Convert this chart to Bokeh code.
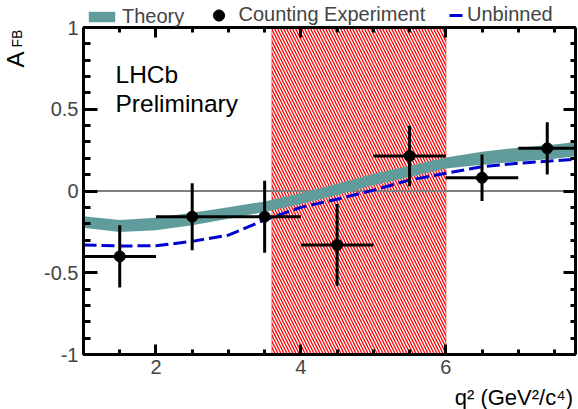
import math
from bokeh.plotting import figure
from bokeh.models import (Range1d, SingleIntervalTicker, LinearAxis, Legend, LegendItem,
                          Label, BoxAnnotation)
from bokeh.embed import file_html
from bokeh.resources import INLINE

# ---- data ----
theory_q  = [1.0, 1.5, 2.0, 2.5, 3.0, 3.5, 4.0, 4.5, 5.0, 5.5, 6.0, 6.5, 7.0, 7.5, 7.79]
theory_lo = [-0.225, -0.250, -0.240, -0.210, -0.170, -0.128, -0.080, -0.025, 0.035, 0.085, 0.138, 0.160, 0.180, 0.198, 0.212]
theory_hi = [-0.155, -0.178, -0.163, -0.133, -0.100, -0.064, -0.012, 0.045, 0.105, 0.155, 0.205, 0.240, 0.265, 0.285, 0.300]

unb_q   = [1.0, 1.5, 2.0, 2.5, 3.0, 3.5, 4.0, 4.5, 5.0, 5.5, 6.0, 6.5, 7.0, 7.5, 7.79]
unb_afb = [-0.330, -0.336, -0.335, -0.308, -0.270, -0.177, -0.100, -0.050, 0.005, 0.067, 0.108, 0.149, 0.170, 0.185, 0.194]

cnt_q   = [1.5, 2.5, 3.5, 4.5, 5.5, 6.5, 7.4]
cnt_lo  = [1.0, 2.0, 3.0, 4.0, 5.0, 6.0, 7.0]
cnt_hi  = [2.0, 3.0, 4.0, 5.0, 6.0, 7.0, 7.79]
cnt_afb = [-0.400, -0.157, -0.157, -0.330, 0.214, 0.081, 0.261]
cnt_err = [0.190, 0.205, 0.220, 0.250, 0.185, 0.142, 0.160]

zero_lo, zero_hi = 3.6, 6.0

y_tick_labels = {-1: "-1", -0.5: "-0.5", 0: "0", 0.5: "0.5", 1: "1"}
x_tick_labels = {2: "2", 4: "4", 6: "6"}

# axis extent of the plot box
XMIN, XMAX = 1.0, 7.79
YMIN, YMAX = -1.0, 1.0

# ---- layout (pixels) ----
W, H = 578, 409
BOX_L, BOX_R, BOX_T, BOX_B = 83, 575, 27, 354
sx = (BOX_R - BOX_L) / (XMAX - XMIN)
sy = (BOX_B - BOX_T) / (YMAX - YMIN)
x_range = Range1d(XMIN - BOX_L / sx, XMAX + (W - BOX_R) / sx)
y_range = Range1d(YMIN - (H - BOX_B) / sy, YMAX + BOX_T / sy)

TEAL = "#609c9c"
FONT = "Liberation Sans"

p = figure(width=W, height=H, x_range=x_range, y_range=y_range,
           x_axis_type=None, y_axis_type=None,
           output_backend="svg", toolbar_location=None,
           min_border=0, min_border_left=0, min_border_right=0, min_border_top=0, min_border_bottom=0)
p.grid.visible = False
p.outline_line_color = None
p.background_fill_color = "white"
p.border_fill_color = "white"

xt = SingleIntervalTicker(interval=2, num_minor_ticks=4)
yt = SingleIntervalTicker(interval=0.5, num_minor_ticks=5)

def mk_axis(ticker, fixed, bounds, maj, mino, overrides=None):
    ax = LinearAxis(ticker=ticker, fixed_location=fixed, bounds=bounds)
    ax.axis_line_width = 3
    ax.axis_line_color = "black"
    ax.major_tick_in = maj
    ax.major_tick_out = 0
    ax.minor_tick_in = mino
    ax.minor_tick_out = 0
    ax.major_tick_line_width = 3
    ax.minor_tick_line_width = 3
    ax.major_label_text_font = FONT
    ax.major_label_text_font_size = "20px"
    ax.major_label_standoff = 5
    if overrides is None:
        ax.major_label_text_color = None
    else:
        ax.major_label_overrides = overrides
    return ax

p.add_layout(mk_axis(xt, YMIN, (XMIN, XMAX), 10, 5, x_tick_labels), "below")
p.add_layout(mk_axis(xt, YMAX, (XMIN, XMAX), 10, 5), "above")
p.add_layout(mk_axis(yt, XMIN, (YMIN, YMAX), 14, 7, y_tick_labels), "left")
p.add_layout(mk_axis(yt, XMAX, (YMIN, YMAX), 12, 5), "right")

# hatched zero-crossing region
box = BoxAnnotation(left=zero_lo, right=zero_hi, bottom=YMIN, top=YMAX, fill_alpha=0,
                    line_color="#e00000", line_width=2,
                    hatch_pattern="\\", hatch_color="red", hatch_scale=6, hatch_weight=1.3,
                    level="underlay")
p.add_layout(box)
p.segment(x0=[XMIN], x1=[XMAX], y0=[0], y1=[0], line_color="#7f7f7f", line_width=2)

band = p.varea(x=theory_q, y1=theory_lo, y2=theory_hi, fill_color=TEAL, fill_alpha=1)
unb = p.line(unb_q, unb_afb, line_color="#0000d0", line_width=3, line_dash="13 5")

p.segment(x0=cnt_lo, x1=cnt_hi, y0=cnt_afb, y1=cnt_afb, line_color="black", line_width=3)
p.segment(x0=cnt_q, x1=cnt_q,
          y0=[a - e for a, e in zip(cnt_afb, cnt_err)],
          y1=[a + e for a, e in zip(cnt_afb, cnt_err)], line_color="black", line_width=3)
pts = p.scatter(cnt_q, cnt_afb, size=11, color="black")

def mk_legend(label, r, left, top, gw, gh, so, row_h):
    # legend location is its bottom-left corner, measured from the bottom of the canvas
    return Legend(items=[LegendItem(label=label, renderers=[r])], location=(left, H - top - row_h),
                  orientation="horizontal", glyph_width=gw, glyph_height=gh, label_standoff=so,
                  padding=0, margin=0, spacing=0, border_line_alpha=0, background_fill_alpha=0,
                  label_text_font=FONT, label_text_font_size="20px", label_height=gh)

p.add_layout(mk_legend("Theory", band, 85, 6, 33, 13, 4, 22.3))
p.add_layout(mk_legend("Counting Experiment", pts, 201.5, 0.5, 33, 28, 4, 28))
p.add_layout(mk_legend("Unbinned", unb, 449, 3.8, 15, 22, 3, 22.3))

def mk_label(text, x, y, size, angle=0.0, align="left"):
    return Label(x=x, y=H - y, x_units="screen", y_units="screen", text=text, angle=angle,
                 text_font=FONT, text_font_size=size, text_baseline="alphabetic",
                 text_align=align, text_color="black")

p.add_layout(mk_label("LHCb", 115, 74.3, "24.5px"))
p.add_layout(mk_label("Preliminary", 115, 103.3, "24.5px"))
p.add_layout(mk_label("A", 15, 67, "24px", angle=math.pi / 2))
p.add_layout(mk_label("FB", 16, 47, "14px", angle=math.pi / 2))
p.add_layout(mk_label("q² (GeV²/c⁴)", 572.5, 396.7, "22px", align="right"))

open("out.html", "w").write(file_html(p, INLINE))
